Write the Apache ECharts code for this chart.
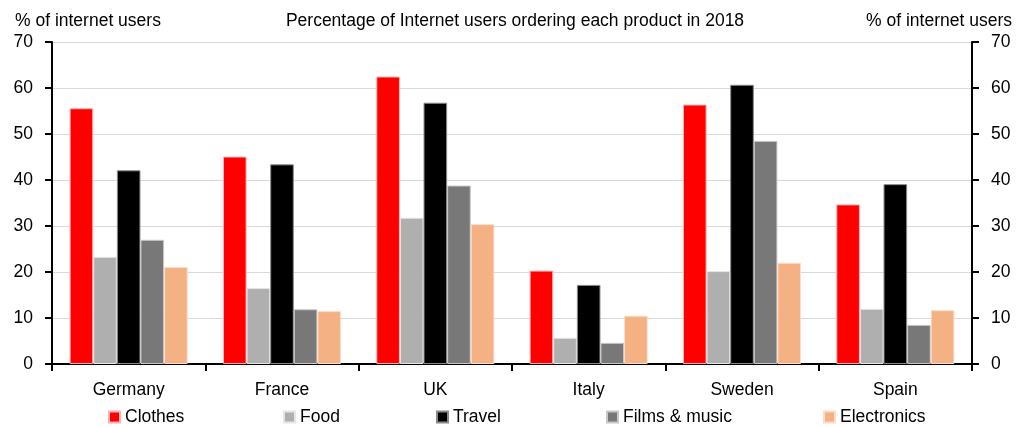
<!DOCTYPE html>
<html>
<head>
<meta charset="utf-8">
<script src="https://cdn.jsdelivr.net/npm/echarts@6/dist/echarts.min.js"></script>
<style>
html,body{margin:0;padding:0;background:#fff;}
#c{width:1030px;height:427px;}
</style>
</head>
<body>
<div id="c"></div>
<script>
const categories = ['Germany', 'France', 'UK', 'Italy', 'Sweden', 'Spain'];
const clothes = [55.6, 45.1, 62.5, 20.3, 56.4, 34.7];
const food = [23.3, 16.5, 31.8, 5.7, 20.2, 12.0];
const travel = [42.1, 43.4, 56.8, 17.2, 60.7, 39.1];
const films = [27.0, 11.9, 38.8, 4.6, 48.5, 8.5];
const electronics = [21.1, 11.5, 30.4, 10.5, 22.0, 11.7];
const seriesNames = ['Clothes', 'Food', 'Travel', 'Films & music', 'Electronics'];
const yTicks = [0, 10, 20, 30, 40, 50, 60, 70];

const colors = ['#FF0000', '#AFAFAF', '#000000', '#787878', '#F4B183'];
const borders = ['#ffb0b0', '#e6e6e6', '#8a8a8a', '#c8c8c8', '#fbdcc8'];
const seriesData = [clothes, food, travel, films, electronics];
const legendLefts = [108, 283, 436, 606, 823];
const font = 'Liberation Sans, Arial, sans-serif';
const fs = 17.5;

const chart = echarts.init(document.getElementById('c'), null, {renderer: 'canvas'});

const yAxisCommon = {
  type: 'value', min: yTicks[0], max: yTicks[yTicks.length - 1], interval: 10,
  axisLine: {show: true, lineStyle: {color: '#000', width: 2}},
  axisTick: {show: true, length: 7, lineStyle: {color: '#000', width: 2}},
  axisLabel: {color: '#000', fontSize: 17.5, fontFamily: font, margin: 19},
  splitLine: {show: true, lineStyle: {color: '#d9d9d9', width: 1}}
};

chart.setOption({
  animation: false,
  backgroundColor: '#fff',
  title: [
    {text: 'Percentage of Internet users ordering each product in 2018', left: 'center', top: 7,
     textStyle: {fontSize: fs, fontWeight: 'normal', color: '#000', fontFamily: font}},
    {text: '% of internet users', left: 10, top: 7,
     textStyle: {fontSize: fs, fontWeight: 'normal', color: '#000', fontFamily: font}},
    {text: '% of internet users', right: 13, top: 7,
     textStyle: {fontSize: fs, fontWeight: 'normal', color: '#000', fontFamily: font}}
  ],
  legend: seriesNames.map((n, i) => ({
    data: [n], left: legendLefts[i], top: 408, padding: 0, icon: 'rect', itemWidth: 11, itemHeight: 11, itemGap: 4,
    textStyle: {fontSize: fs, color: '#000', fontFamily: font, padding: [0, 0, 0, 0]},
    selectedMode: false
  })),
  grid: {left: 52, right: 58, top: 42, bottom: 63, containLabel: false},
  xAxis: {
    type: 'category', data: categories,
    axisLine: {show: true, lineStyle: {color: '#000', width: 2}},
    axisTick: {show: true, length: 7, alignWithLabel: false, inside: false, lineStyle: {color: '#000', width: 2}},
    axisLabel: {color: '#000', fontSize: fs, fontFamily: font, margin: 17}
  },
  yAxis: [
    Object.assign({}, yAxisCommon, {position: 'left'}),
    Object.assign({}, yAxisCommon, {position: 'right', splitLine: {show: false}})
  ],
  series: seriesNames.map((n, i) => ({
    name: n, type: 'bar', data: seriesData[i], yAxisIndex: 0,
    barGap: '0%', barCategoryGap: '23%',
    itemStyle: {color: colors[i], borderColor: borders[i], borderWidth: 1}
  }))
});
</script>
</body>
</html>
